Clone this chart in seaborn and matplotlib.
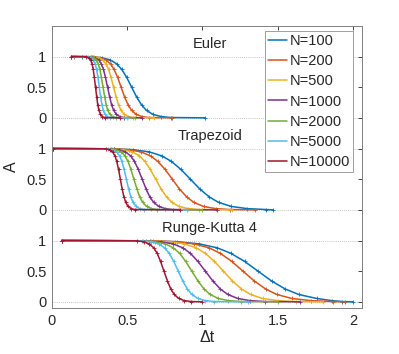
import numpy as np
import pandas as pd
import matplotlib
matplotlib.use('Agg')
import matplotlib.pyplot as plt
import seaborn as sns
from matplotlib.lines import Line2D

# Values
sizes = ['N=100', 'N=200', 'N=500', 'N=1000', 'N=2000', 'N=5000', 'N=10000']
colors = ['#0072BD', '#D95319', '#EDB120', '#7E2F8E', '#77AC30', '#4DBEEE', '#A2142F']
methods = ['Euler', 'Trapezoid', 'Runge-Kutta 4']
offsets = [3.0, 1.5, 0.0]

# A along each curve (start, drop, tail, end)
A_profile = [1, 0.995, 0.98, 0.945, 0.88, 0.79, 0.66, 0.5, 0.34, 0.21, 0.12, 0.055, 0.02, 0.005, 0]

euler_dt = {
    'N=100':   [0.20, 0.266, 0.332, 0.387, 0.431, 0.464, 0.497, 0.53, 0.563, 0.596, 0.629, 0.673, 0.728, 0.794, 1.02],
    'N=200':   [0.15, 0.274, 0.320, 0.359, 0.390, 0.413, 0.437, 0.46, 0.483, 0.507, 0.530, 0.561, 0.600, 0.646, 0.80],
    'N=500':   [0.13, 0.278, 0.311, 0.338, 0.360, 0.377, 0.393, 0.41, 0.427, 0.443, 0.460, 0.482, 0.509, 0.542, 0.68],
    'N=1000':  [0.13, 0.262, 0.289, 0.311, 0.329, 0.343, 0.356, 0.37, 0.384, 0.397, 0.411, 0.429, 0.451, 0.478, 0.60],
    'N=2000':  [0.13, 0.256, 0.277, 0.294, 0.308, 0.319, 0.329, 0.34, 0.351, 0.361, 0.372, 0.386, 0.403, 0.424, 0.55],
    'N=5000':  [0.13, 0.243, 0.261, 0.276, 0.288, 0.297, 0.306, 0.315, 0.324, 0.333, 0.342, 0.354, 0.369, 0.387, 0.50],
    'N=10000': [0.13, 0.230, 0.245, 0.257, 0.267, 0.275, 0.282, 0.29, 0.298, 0.305, 0.313, 0.323, 0.335, 0.350, 0.45],
}
trap_dt = {
    'N=100':   [0.01, 0.416, 0.542, 0.647, 0.731, 0.794, 0.857, 0.92, 0.983, 1.046, 1.109, 1.193, 1.298, 1.424, 1.47],
    'N=200':   [0.01, 0.416, 0.512, 0.592, 0.656, 0.704, 0.752, 0.80, 0.848, 0.896, 0.944, 1.008, 1.088, 1.184, 1.35],
    'N=500':   [0.01, 0.402, 0.474, 0.534, 0.582, 0.618, 0.654, 0.69, 0.726, 0.762, 0.798, 0.846, 0.906, 0.978, 1.20],
    'N=1000':  [0.01, 0.396, 0.447, 0.489, 0.523, 0.549, 0.574, 0.60, 0.626, 0.651, 0.677, 0.711, 0.753, 0.804, 1.10],
    'N=2000':  [0.01, 0.389, 0.428, 0.460, 0.486, 0.506, 0.525, 0.545, 0.565, 0.584, 0.604, 0.630, 0.662, 0.701, 1.00],
    'N=5000':  [0.01, 0.375, 0.405, 0.430, 0.450, 0.465, 0.480, 0.495, 0.510, 0.525, 0.540, 0.560, 0.585, 0.615, 0.90],
    'N=10000': [0.01, 0.359, 0.383, 0.403, 0.419, 0.431, 0.443, 0.455, 0.467, 0.479, 0.491, 0.507, 0.527, 0.551, 0.85],
}
rk4_dt = {
    'N=100':   [0.065, 0.65, 0.83, 0.98, 1.10, 1.19, 1.28, 1.37, 1.46, 1.55, 1.64, 1.76, 1.86, 1.93, 2.00],
    'N=200':   [0.065, 0.67, 0.82, 0.945, 1.045, 1.12, 1.195, 1.27, 1.345, 1.42, 1.495, 1.595, 1.72, 1.87, 1.95],
    'N=500':   [0.065, 0.66, 0.78, 0.88, 0.96, 1.02, 1.08, 1.14, 1.20, 1.26, 1.32, 1.40, 1.50, 1.62, 1.80],
    'N=1000':  [0.065, 0.624, 0.723, 0.805, 0.871, 0.921, 0.970, 1.02, 1.07, 1.119, 1.169, 1.235, 1.317, 1.416, 1.65],
    'N=2000':  [0.065, 0.606, 0.687, 0.754, 0.808, 0.849, 0.889, 0.93, 0.971, 1.011, 1.052, 1.106, 1.173, 1.254, 1.50],
    'N=5000':  [0.065, 0.60, 0.66, 0.71, 0.75, 0.78, 0.81, 0.84, 0.87, 0.90, 0.93, 0.97, 1.02, 1.08, 1.30],
    'N=10000': [0.065, 0.565, 0.61, 0.647, 0.677, 0.70, 0.722, 0.745, 0.768, 0.79, 0.813, 0.843, 0.88, 0.925, 1.00],
}
dt_tables = [euler_dt, trap_dt, rk4_dt]

# long table
rows = []
for method, off, table in zip(methods, offsets, dt_tables):
    for n in sizes:
        for dt, a in zip(table[n], A_profile):
            rows.append((method, n, dt, a, a + off))
df = pd.DataFrame(rows, columns=['method', 'N', 'dt', 'A', 'y'])

sns.set_style('white')
plt.rcParams['font.family'] = ['Liberation Sans', 'DejaVu Sans']

fig = plt.figure(figsize=(3.99, 3.54), dpi=100)
ax = fig.add_axes([0.130, 0.130, 0.777, 0.797])

# dotted guide lines at 0 and 1 of every panel
for off in offsets:
    for lvl in (0, 1):
        ax.axhline(off + lvl, color='#b0b0b0', lw=0.6, ls=(0, (1, 1.5)), zorder=0)

pal = dict(zip(sizes, colors))
for method, off in zip(methods, offsets):
    sub = df[df['method'] == method]
    sns.lineplot(data=sub, x='dt', y='y', hue='N', palette=pal, hue_order=sizes,
                 estimator=None, sort=True, lw=1.1, ls='-', marker='+', markersize=3,
                 markeredgewidth=0.6, legend=False, ax=ax)
    ax.text(1.05, off + 1.2, method, ha='center', va='center', fontsize=10.5, color='#262626')

# seaborn paints marker edges white; give them the line colour instead
for ln in ax.lines:
    if ln.get_marker() == '+':
        ln.set_markeredgecolor(ln.get_color())

ax.set_xlim(0, 2.06)
ax.set_ylim(-0.1, 4.5)
ax.set_xticks([0, 0.5, 1, 1.5, 2])
ax.set_xticklabels(['0', '0.5', '1', '1.5', '2'])
ax.set_yticks([0, 0.5, 1, 1.5, 2, 2.5, 3, 3.5, 4])
ax.set_yticklabels(['0', '0.5', '1'] * 3)
ax.tick_params(direction='in', length=3, width=0.6, top=True, right=True,
               labelsize=10.5, colors='#262626', pad=4)
for sp in ax.spines.values():
    sp.set_color('#808080')
    sp.set_linewidth(0.7)
ax.set_xlabel('\u0394t', fontsize=11.5, color='#262626', labelpad=2)
ax.set_ylabel('A', fontsize=11.5, color='#262626', labelpad=5)

handles = [Line2D([0], [0], color=c, lw=1.1) for c in colors]
leg = ax.legend(handles, sizes, loc='upper right', bbox_to_anchor=(0.971, 0.982),
                borderaxespad=0, fontsize=10.5, handlelength=1.3, handletextpad=0.15,
                labelspacing=0.42, borderpad=0.22, fancybox=False, framealpha=1)
leg.get_frame().set_edgecolor('#a0a0a0')
leg.get_frame().set_linewidth(0.7)

fig.savefig('out.png', dpi=100)
